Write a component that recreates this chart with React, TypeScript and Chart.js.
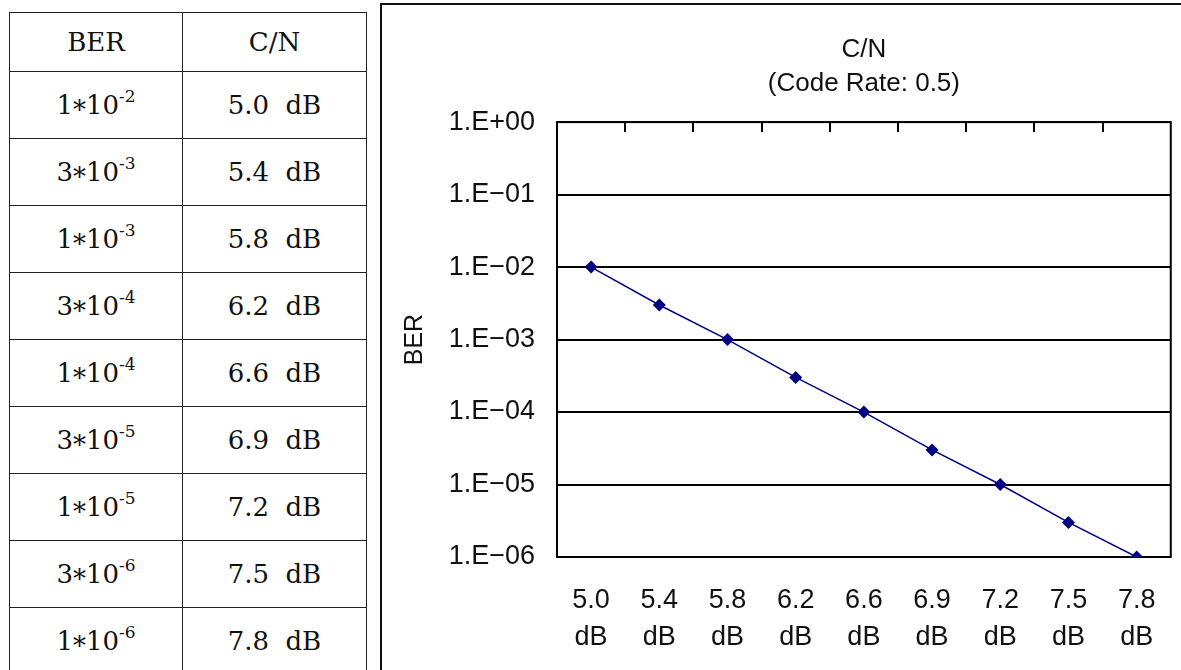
import React, { useEffect, useRef } from "react";
import { Chart, registerables } from "chart.js";

Chart.register(...registerables);

// ---- data ----
const cnLabels = ["5.0", "5.4", "5.8", "6.2", "6.6", "6.9", "7.2", "7.5", "7.8"];
const cnUnit = "dB";
const berValues = [1e-2, 3e-3, 1e-3, 3e-4, 1e-4, 3e-5, 1e-5, 3e-6, 1e-6];
const berMantissa = ["1", "3", "1", "3", "1", "3", "1", "3", "1"];
const berExponent = ["-2", "-3", "-3", "-4", "-4", "-5", "-5", "-6", "-6"];
const yTickValues = [1e-6, 1e-5, 1e-4, 1e-3, 1e-2, 1e-1, 1];
const yTickLabels = ["1.E\u221206", "1.E\u221205", "1.E\u221204", "1.E\u221203", "1.E\u221202", "1.E\u221201", "1.E+00"];
const chartTitle = ["C/N", "(Code Rate: 0.5)"];
const yAxisTitle = "BER";
const tableHeaders = ["BER", "C/N"];

const SANS = '"Liberation Sans", Arial, sans-serif';

const framePlugin = {
  id: "frame",
  beforeDatasetsDraw(chart: any) {
    const { ctx, chartArea: a, scales } = chart;
    ctx.save();
    ctx.strokeStyle = "#000";
    ctx.lineWidth = 2;
    ctx.strokeRect(a.left, a.top, a.right - a.left, a.bottom - a.top);
    const xs = scales.x;
    ctx.beginPath();
    for (let i = 0; i < xs.ticks.length - 1; i++) {
      const px = Math.round((xs.getPixelForTick(i) + xs.getPixelForTick(i + 1)) / 2);
      ctx.moveTo(px, a.top);
      ctx.lineTo(px, a.top + 10);
    }
    ctx.stroke();
    ctx.restore();
  },
};

function BerChart() {
  const ref = useRef<HTMLCanvasElement | null>(null);
  useEffect(() => {
    if (!ref.current) return;
    const chart = new Chart(ref.current, {
      type: "line",
      data: {
        labels: cnLabels,
        datasets: [
          {
            data: berValues,
            borderColor: "#000080",
            backgroundColor: "#000080",
            borderWidth: 1.5,
            pointStyle: "rectRot",
            pointRadius: 6.5,
            pointBorderWidth: 0,
            pointBackgroundColor: "#000080",
            tension: 0,
          },
        ],
      },
      options: {
        responsive: false,
        animation: false,
        layout: { padding: { left: 0, top: 0, right: 7, bottom: 0 } },
        plugins: {
          legend: { display: false },
          tooltip: { enabled: false },
          title: {
            display: true,
            text: chartTitle,
            fullSize: false,
            color: "#111",
            font: { family: SANS, size: 26, weight: "normal", lineHeight: 1.31 },
            padding: { top: 28, bottom: 21 },
          },
        },
        scales: {
          x: {
            type: "category",
            offset: true,
            grid: { display: false, drawTicks: false },
            border: { display: false },
            ticks: {
              autoSkip: false,
              maxRotation: 0,
              minRotation: 0,
              padding: 25,
              color: "#111",
              font: { family: SANS, size: 27, lineHeight: 1.37 },
              callback: (_v: any, i: number) => [cnLabels[i], cnUnit],
            },
            afterFit: (s: any) => {
              s.height = 113;
            },
          },
          y: {
            type: "logarithmic",
            min: 1e-6,
            max: 1,
            grid: { color: "#000", lineWidth: 2, drawTicks: false },
            border: { display: false },
            title: {
              display: true,
              text: yAxisTitle,
              color: "#111",
              font: { family: SANS, size: 25 },
              padding: { top: 18, bottom: 0 },
            },
            ticks: {
              padding: 22,
              color: "#111",
              font: { family: SANS, size: 27 },
              callback: (_v: any, i: number) => yTickLabels[i],
            },
            afterBuildTicks: (s: any) => {
              s.ticks = yTickValues.map((v) => ({ value: v, major: true }));
            },
            afterFit: (s: any) => {
              s.width = 175;
            },
          },
        },
      },
      plugins: [framePlugin],
    } as any);
    return () => chart.destroy();
  }, []);
  return <canvas ref={ref} width={799} height={665} style={{ width: 799, height: 665, display: "block" }} />;
}

function BerTable() {
  const tdBase: React.CSSProperties = {
    padding: 0,
    borderRight: "1px solid #222",
    borderBottom: "1px solid #222",
  };
  const cell = (w: number, h: number, content: React.ReactNode) => (
    <div
      style={{
        width: w,
        height: h,
        display: "flex",
        alignItems: "center",
        justifyContent: "center",
        whiteSpace: "pre",
      }}
    >
      {content}
    </div>
  );
  return (
    <table
      style={{
        position: "absolute",
        left: 9,
        top: 12,
        borderCollapse: "separate",
        borderSpacing: 0,
        borderTop: "1px solid #222",
        borderLeft: "1px solid #222",
        fontFamily: '"DejaVu Serif", serif',
        fontSize: 26,
        color: "#111",
      }}
    >
      <tbody>
        <tr>
          <td style={tdBase}>{cell(172, 58, tableHeaders[0])}</td>
          <td style={tdBase}>{cell(183, 58, tableHeaders[1])}</td>
        </tr>
        {berMantissa.map((m, i) => (
          <tr key={i}>
            <td style={tdBase}>
              {cell(
                172,
                66,
                <span>
                  {m}
                  <span style={{ position: "relative", top: 5 }}>*</span>
                  10
                  <span style={{ fontSize: 17, position: "relative", top: -12 }}>{berExponent[i]}</span>
                </span>
              )}
            </td>
            <td style={tdBase}>
              {cell(183, 66, <span style={{ wordSpacing: 8 }}>{cnLabels[i] + " " + cnUnit}</span>)}
            </td>
          </tr>
        ))}
      </tbody>
    </table>
  );
}

export default function App() {
  return (
    <div
      style={{
        position: "fixed",
        left: 0,
        top: 0,
        width: 1181,
        height: 670,
        overflow: "hidden",
        background: "#fff",
      }}
    >
      <BerTable />
      <div
        style={{
          position: "absolute",
          left: 380,
          top: 3,
          width: 810,
          height: 700,
          borderTop: "2px solid #111",
          borderLeft: "2px solid #111",
        }}
      />
      <div style={{ position: "absolute", left: 382, top: 5 }}>
        <BerChart />
      </div>
    </div>
  );
}
